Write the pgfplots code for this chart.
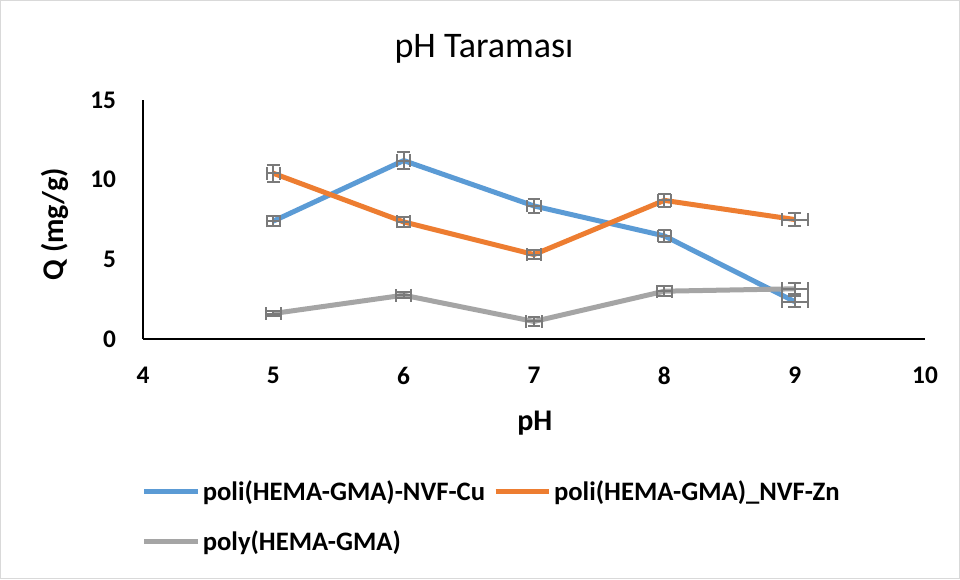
\documentclass[border=0pt]{standalone}
\usepackage{pgfplots}
\pgfplotsset{compat=1.18}
\usepackage{pgfplotstable}
\usepackage{fontspec}
\setmainfont{Carlito}
\definecolor{cublue}{HTML}{5B9BD5}
\definecolor{znorange}{HTML}{ED7D31}
\definecolor{polygray}{HTML}{A5A5A5}
\definecolor{errgray}{HTML}{7A7A7A}
\definecolor{bordergray}{HTML}{D9D9D9}

\pgfplotstableread{
x y ex ey
5 7.4 0.05 0.30
6 11.2 0.05 0.55
7 8.35 0.05 0.42
8 6.47 0.05 0.37
9 2.35 0.10 0.37
}\cudata
\pgfplotstableread{
x y ex ey
5 10.4 0.05 0.55
6 7.35 0.05 0.30
7 5.3 0.05 0.30
8 8.7 0.05 0.42
9 7.5 0.10 0.40
}\zndata
\pgfplotstableread{
x y ex ey
5 1.6 0.06 0.15
6 2.75 0.06 0.20
7 1.1 0.06 0.30
8 3.0 0.06 0.30
9 3.15 0.10 0.35
}\polydata

\pgfplotsset{myerr/.style={
  error bars/x dir=both, error bars/x explicit,
  error bars/y dir=both, error bars/y explicit,
  error bars/error bar style={color=errgray, line width=1.5pt},
  error bars/error mark options={rotate=90, color=errgray, line width=1.5pt, mark size=4.8pt},
}}

\begin{document}
\begin{tikzpicture}
\fill[white] (0,0) rectangle (720pt,434.25pt);
\draw[bordergray, line width=0.75pt] (0.375pt,0.375pt) rectangle (719.625pt,433.875pt);
\node[anchor=base, font=\fontsize{27}{31}\selectfont] at (363pt,390.75pt) {pH Taraması};
\begin{axis}[
  at={(107.25pt,180pt)}, anchor=south west,
  scale only axis, width=586.5pt, height=179.25pt,
  xmin=4, xmax=10, ymin=0, ymax=15,
  xtick={4,5,6,7,8,9,10}, ytick={0,5,10,15},
  axis lines*=left,
  axis line style={black, line width=1.5pt},
  major tick length=0pt,
  /pgf/number format/assume math mode=true,
  ticklabel style={font=\bfseries\fontsize{19}{22}\selectfont},
  xticklabel style={anchor=north, inner sep=0pt, yshift=-21pt},
  yticklabel style={anchor=east, inner sep=0pt, xshift=-20pt},
  xlabel={pH}, ylabel={Q (mg/g)},
  label style={font=\bfseries\fontsize{22.5}{26}\selectfont},
  xlabel style={at={(axis description cs:0.501,-0.35)}, anchor=center},
  ylabel style={at={(axis description cs:-0.1125,0.48)}, anchor=center},
  legend style={at={(axis description cs:-0.007,-0.57)}, anchor=north west,
    draw=none, fill=none, font=\bfseries\fontsize{20}{24}\selectfont,
    /tikz/every even column/.append style={column sep=4pt},
    row sep=17pt},
  legend columns=2,
  legend cell align=left,
  legend image code/.code={\draw[#1, line width=3.75pt] (0pt,0pt) -- (40pt,0pt);},
  clip=false,
]
\addplot[cublue, line width=3.75pt, line join=round, no markers, myerr]
  table[x=x, y=y, x error=ex, y error=ey] {\cudata};
\addlegendentry{poli(HEMA-GMA)-NVF-Cu}
\addplot[znorange, line width=3.75pt, line join=round, no markers, myerr]
  table[x=x, y=y, x error=ex, y error=ey] {\zndata};
\addlegendentry{poli(HEMA-GMA)\_NVF-Zn}
\addplot[polygray, line width=3.75pt, line join=round, no markers, myerr]
  table[x=x, y=y, x error=ex, y error=ey] {\polydata};
\addlegendentry{poly(HEMA-GMA)}
\end{axis}
\end{tikzpicture}
\end{document}
